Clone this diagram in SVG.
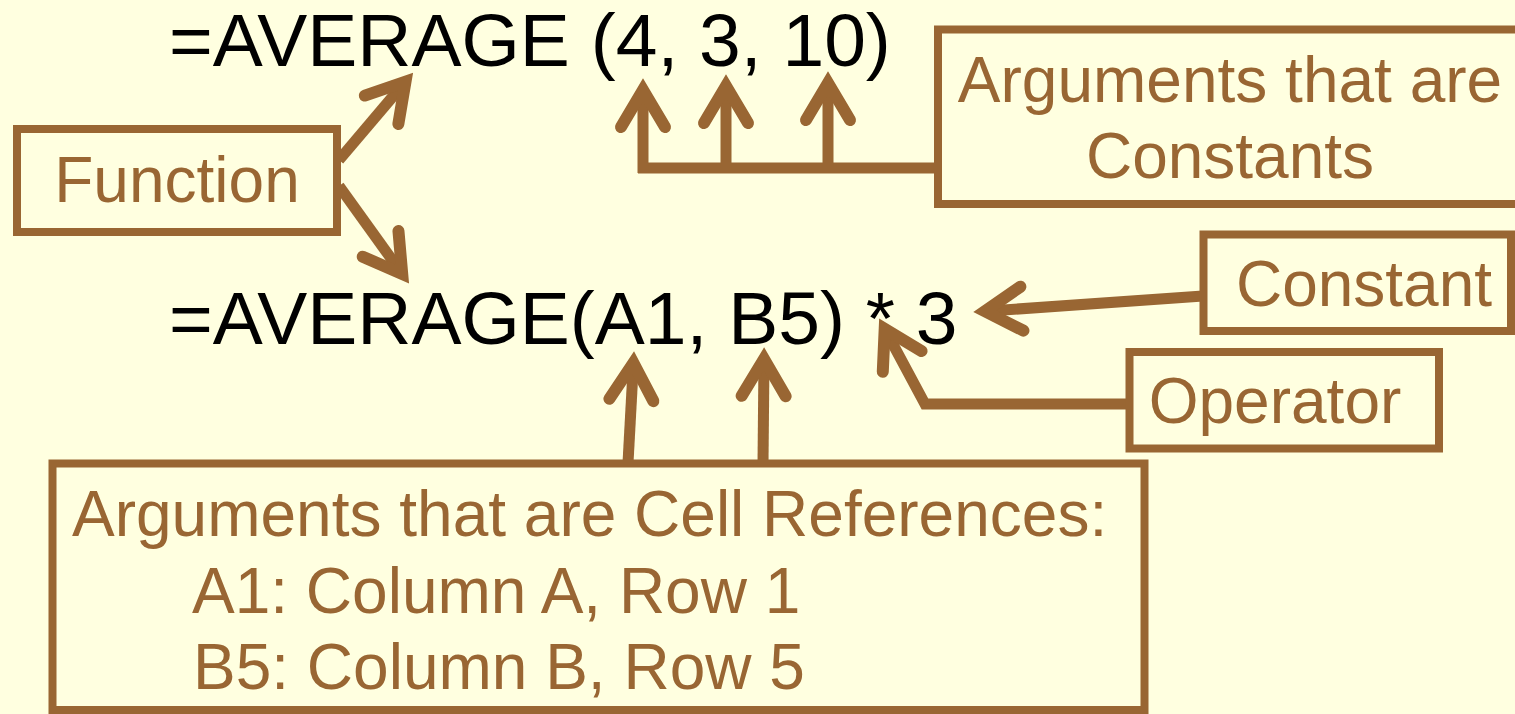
<svg xmlns="http://www.w3.org/2000/svg" width="1515" height="714" viewBox="0 0 1515 714">
<style>
.box{fill:none;stroke:#996633;stroke-width:8}
.lbl{font-family:"Liberation Sans",Arial,sans-serif;font-size:64px;fill:#996633}
.fx{font-family:"Liberation Sans",Arial,sans-serif;font-size:75px;fill:#000000}
.con{fill:none;stroke:#996633;stroke-width:11;stroke-linejoin:miter}
</style>
<defs>
<marker id="arr" markerUnits="userSpaceOnUse" orient="auto" refX="0" refY="0" markerWidth="100" markerHeight="100" viewBox="-50 -50 100 100" overflow="visible">
<path d="M-37,-22 L0,0 L-37,22" fill="none" stroke="#996633" stroke-width="12" stroke-linecap="round" stroke-linejoin="miter" stroke-miterlimit="10"/>
</marker>
</defs>
<rect x="0" y="0" width="1515" height="714" fill="#FFFFE0"/>

<g id="formula-top"><text class="fx" x="169" y="66">=AVERAGE (4, 3, 10)</text></g>
<g id="formula-bottom"><text class="fx" x="169" y="344">=AVERAGE(A1, B5) * 3</text></g>

<g id="connectors">
<line class="con" x1="339" y1="160" x2="405.5" y2="81.6" marker-end="url(#arr)"/>
<line class="con" x1="339" y1="186" x2="402.2" y2="273.9" marker-end="url(#arr)"/>
<line class="con" x1="638" y1="168" x2="938" y2="168"/>
<line class="con" x1="643" y1="173" x2="643" y2="90" marker-end="url(#arr)"/>
<line class="con" x1="726" y1="168" x2="726" y2="86" marker-end="url(#arr)"/>
<line class="con" x1="828" y1="168" x2="828" y2="83" marker-end="url(#arr)"/>
<line class="con" x1="1203" y1="296" x2="985" y2="311.3" marker-end="url(#arr)"/>
<polyline class="con" points="1129,404 925,404 884.7,328.8" marker-end="url(#arr)"/>
<line class="con" x1="628" y1="463" x2="633.4" y2="363" marker-end="url(#arr)"/>
<line class="con" x1="763" y1="463" x2="764" y2="359" marker-end="url(#arr)"/>
</g>

<g id="node-function">
<rect class="box" x="17" y="129" width="320" height="103"/>
<text class="lbl" x="177" y="202" text-anchor="middle">Function</text>
</g>

<g id="node-constants">
<rect class="box" x="938" y="29.5" width="600" height="174.5"/>
<text class="lbl" x="1230" y="102" text-anchor="middle">Arguments that are</text>
<text class="lbl" x="1230" y="178" text-anchor="middle">Constants</text>
</g>

<g id="node-constant">
<rect class="box" x="1203.5" y="234.5" width="307.5" height="96.5"/>
<text class="lbl" x="1364" y="306" text-anchor="middle">Constant</text>
</g>

<g id="node-operator">
<rect class="box" x="1129.5" y="352" width="309.5" height="96.5"/>
<text class="lbl" x="1275" y="423" text-anchor="middle">Operator</text>
</g>

<g id="node-cellrefs">
<rect class="box" x="52.5" y="463.5" width="1092" height="246.5"/>
<text class="lbl" x="72" y="536">Arguments that are Cell References:</text>
<text class="lbl" x="192" y="613">A1: Column A, Row 1</text>
<text class="lbl" x="193" y="689">B5: Column B, Row 5</text>
</g>
</svg>
